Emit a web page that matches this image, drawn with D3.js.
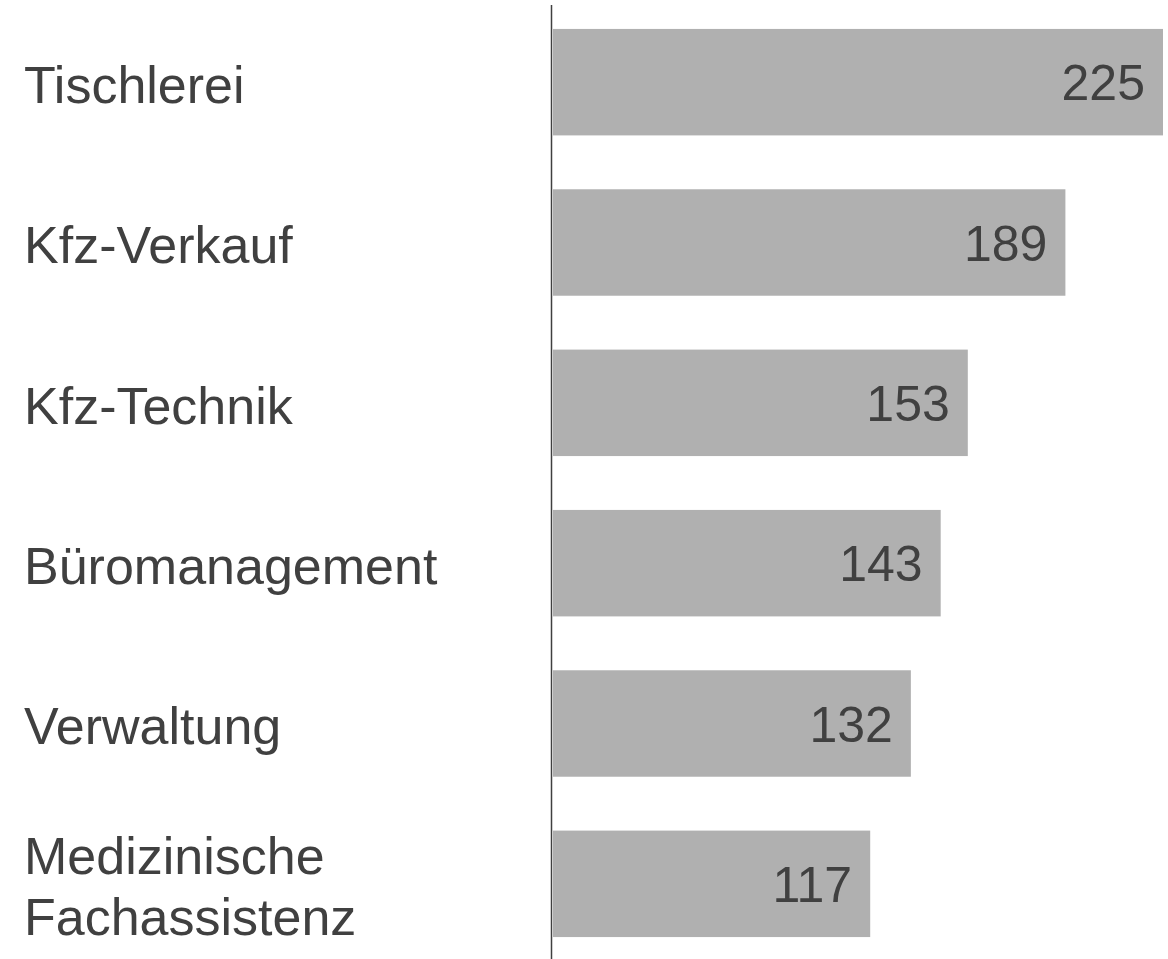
<!DOCTYPE html>
<html>
<head>
<meta charset="utf-8">
<script src="https://cdn.jsdelivr.net/npm/d3@7"></script>
<style>
  body { margin: 0; background: #fff; }
  svg { display: block; }
  text { font-family: 'Liberation Sans', Arial, sans-serif; fill: #404040; }
</style>
</head>
<body>
<script>
const categories = ['Tischlerei', 'Kfz-Verkauf', 'Kfz-Technik', 'Büromanagement', 'Verwaltung', 'Medizinische Fachassistenz']
const labelLines = [['Tischlerei'], ['Kfz-Verkauf'], ['Kfz-Technik'], ['Büromanagement'], ['Verwaltung'], ['Medizinische', 'Fachassistenz']]
const values = [225, 189, 153, 143, 132, 117]

const width = 1168
const height = 959

const svg = d3.select('body').append('svg')
    .attr('width', width)
    .attr('height', height)

const x = d3.scaleLinear().domain([0, 225]).range([553, 1163])
const y = d3.scaleBand().domain(categories).range([2, 964])
    .paddingInner(0.336).paddingOuter(0.168)

// bars
svg.selectAll('rect.bar')
  .data(categories)
  .enter().append('rect')
    .attr('class', 'bar')
    .attr('x', x(0))
    .attr('y', d => y(d))
    .attr('width', (d, i) => x(values[i]) - x(0))
    .attr('height', y.bandwidth())
    .attr('fill', '#b0b0b0')

// value labels inside bars
svg.selectAll('text.value')
  .data(categories)
  .enter().append('text')
    .attr('class', 'value')
    .attr('x', (d, i) => x(values[i]) - 18)
    .attr('y', d => y(d) + y.bandwidth() / 2)
    .attr('dy', '0.36em')
    .attr('text-anchor', 'end')
    .style('font-size', '50px')
    .text((d, i) => values[i])

// category labels
const labels = svg.selectAll('text.cat')
  .data(categories)
  .enter().append('text')
    .attr('class', 'cat')
    .style('font-size', '52px')

labels.each(function(d, i) {
  const lines = labelLines[i]
  const cy = y(d) + y.bandwidth() / 2 + 2
  const lh = 61
  d3.select(this).selectAll('tspan')
    .data(lines)
    .enter().append('tspan')
      .attr('x', 24)
      .attr('y', (l, j) => cy + (j - (lines.length - 1) / 2) * lh)
      .attr('dy', '0.36em')
      .text(l => l)
})

// vertical axis line
svg.append('line')
    .attr('x1', 551.5).attr('x2', 551.5)
    .attr('y1', 5).attr('y2', height)
    .attr('stroke', '#404040')
    .attr('stroke-width', 1.5)
</script>
</body>
</html>
